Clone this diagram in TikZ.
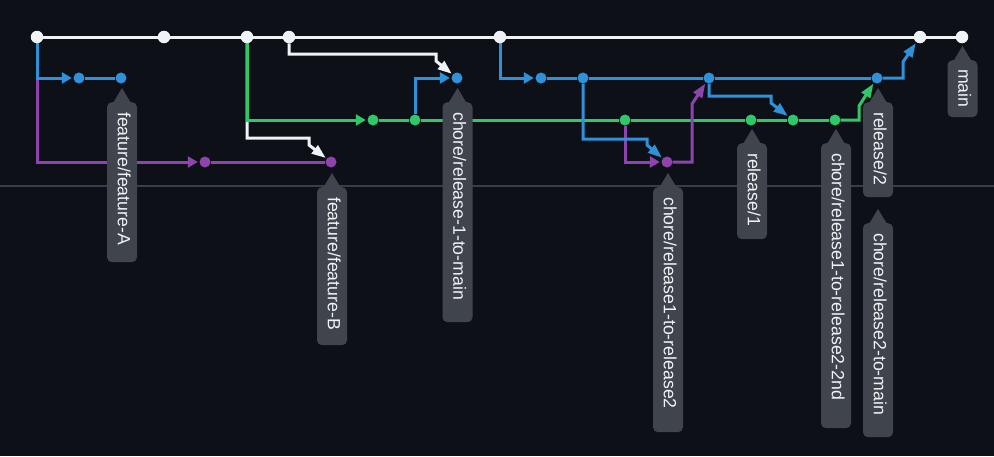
\documentclass[tikz,border=0pt]{standalone}
\usepackage{fontspec}
\setmainfont{Liberation Sans}
\usetikzlibrary{arrows.meta}
\definecolor{bgc}{RGB}{13,17,23}
\definecolor{sepc}{RGB}{58,62,68}
\definecolor{gwhite}{RGB}{240,243,246}
\definecolor{gblue}{RGB}{47,145,218}
\definecolor{ggreen}{RGB}{46,200,105}
\definecolor{gpurple}{RGB}{142,68,173}
\definecolor{tagc}{RGB}{64,68,76}
\definecolor{tagtext}{RGB}{240,243,246}
\pgfdeclarelayer{bgl}
\pgfdeclarelayer{edges}
\pgfsetlayers{bgl,edges,main}
\begin{document}
\begin{tikzpicture}[x=1pt,y=-1pt,
  dot/.style={circle, inner sep=0pt, minimum size=11pt},
  mdot/.style={dot, minimum size=12.5pt, fill=gwhite},
  bdot/.style={dot, fill=gblue},
  gdot/.style={dot, fill=ggreen},
  pdot/.style={dot, fill=gpurple},
  ln/.style={line width=3pt},
  arr/.style={-{Triangle[length=10pt,width=11pt]}, shorten >=1.5pt},
  bolt/.style={-{Triangle[length=14pt,width=10pt]}, shorten >=1pt},
  tag/.style={fill=tagc, text=tagtext, rounded corners=5pt, rotate=-90, anchor=west,
    inner xsep=10pt, inner ysep=0pt, minimum height=30pt, text height=13pt, text depth=4.5pt,
    align=left, font=\fontsize{17.7}{20}\selectfont},
]
\useasboundingbox (0,0) rectangle (994,456);
\begin{pgfonlayer}{bgl}
  \fill[bgc] (0,0) rectangle (994,456);
  \draw[sepc, line width=1.5pt] (0,186) -- (994,186);
\end{pgfonlayer}

% commits
\node[mdot] (m1) at (37,37) {};
\node[mdot] (m2) at (164,37) {};
\node[mdot] (m3) at (247,37) {};
\node[mdot] (m4) at (289,37) {};
\node[mdot] (m5) at (500,37) {};
\node[mdot] (m6) at (920,37) {};
\node[mdot] (m7) at (962,37) {};
\node[bdot] (fa1) at (79,78) {};
\node[bdot] (fa2) at (121,78) {};
\node[bdot] (c1) at (457,78) {};
\node[bdot] (b1) at (541,78) {};
\node[bdot] (b2) at (583,78) {};
\node[bdot] (b3) at (709,78) {};
\node[bdot] (b4) at (877,78) {};
\node[gdot] (g1) at (373,120) {};
\node[gdot] (g2) at (415,120) {};
\node[gdot] (g3) at (625,120) {};
\node[gdot] (g4) at (751,120) {};
\node[gdot] (g5) at (793,120) {};
\node[gdot] (g6) at (835,120) {};
\node[pdot] (fb1) at (205,162) {};
\node[pdot] (fb2) at (331,162) {};
\node[pdot] (p1) at (667,162) {};

\begin{pgfonlayer}{edges}
  % main line
  \draw[ln, gwhite] (m1) -- (m2) -- (m3) -- (m4) -- (m5) -- (m6) -- (m7);
  % feature-B branch
  \draw[ln, gpurple, arr] (m1) |- (fb1);
  \draw[ln, gpurple] (fb1) -- (fb2);
  % feature-A branch
  \draw[ln, gblue, arr] (m1) |- (fa1);
  \draw[ln, gblue] (fa1) -- (fa2);
  % main -> feature-B
  \draw[ln, gwhite, bolt] (m3) -- (247,138) -- (309,138) -- (309,145) -- (fb2);
  % release/1 branch
  \draw[ln, ggreen, arr] (m3) |- (g1);
  \draw[ln, ggreen] (g1) -- (g2) -- (g3) -- (g4) -- (g5) -- (g6);
  % chore/release-1-to-main
  \draw[ln, gwhite, bolt] (m4) -- (289,54) -- (436,54) -- (436,61) -- (c1);
  \draw[ln, gblue, arr] (g2) |- (c1);
  % release/2 branch
  \draw[ln, gblue, arr] (m5) |- (b1);
  \draw[ln, gblue] (b1) -- (b2) -- (b3) -- (b4);
  % chore/release1-to-release2
  \draw[ln, gpurple, arr] (g3) |- (p1);
  \draw[ln, gblue, bolt] (b2) -- (583,139) -- (647,139) -- (647,145) -- (p1);
  \draw[ln, gpurple, bolt] (p1) -- (692,162) -- (692,104) -- (b3);
  % release/2 -> release/1 (2nd)
  \draw[ln, gblue, bolt] (b3) -- (709,96) -- (771,96) -- (771,103) -- (g5);
  % release1 -> release2 2nd
  \draw[ln, ggreen, bolt] (g6) -- (859,120) -- (859,106) -- (b4);
  % release2 -> main
  \draw[ln, gblue, bolt] (b4) -- (903,78) -- (903,62) -- (m6);
\end{pgfonlayer}

% labels
\node[tag, text width=140pt] (tA) at (122,102) {feature/feature-A};
\fill[tagc] (tA.west) ++(-9,1) -- ++(9,-15) -- ++(9,15) -- cycle;
\node[tag, text width=138pt] (tB) at (332,187) {feature/feature-B};
\fill[tagc] (tB.west) ++(-9,1) -- ++(9,-15) -- ++(9,15) -- cycle;
\node[tag, text width=200pt] (tC) at (457.5,102) {chore/release-1-to-main};
\fill[tagc] (tC.west) ++(-9,1) -- ++(9,-15) -- ++(9,15) -- cycle;
\node[tag, text width=225pt] (tD) at (668,187) {chore/release1-to-release2};
\fill[tagc] (tD.west) ++(-9,1) -- ++(9,-15) -- ++(9,15) -- cycle;
\node[tag, text width=76pt] (tE) at (752,143) {release/1};
\fill[tagc] (tE.west) ++(-9,1) -- ++(9,-15) -- ++(9,15) -- cycle;
\node[tag, text width=265pt] (tF) at (836,143) {chore/release1-to-release2-2nd};
\fill[tagc] (tF.west) ++(-9,1) -- ++(9,-15) -- ++(9,15) -- cycle;
\node[tag, text width=75pt] (tG) at (878,102) {release/2};
\fill[tagc] (tG.west) ++(-9,1) -- ++(9,-15) -- ++(9,15) -- cycle;
\node[tag, text width=194pt] (tH) at (878,223) {chore/release2-to-main};
\fill[tagc] (tH.west) ++(-9,1) -- ++(9,-15) -- ++(9,15) -- cycle;
\node[tag, text width=39pt, inner xsep=9pt] (tI) at (962.5,60) {main};
\fill[tagc] (tI.west) ++(-9,1) -- ++(9,-15) -- ++(9,15) -- cycle;
\end{tikzpicture}
\end{document}
